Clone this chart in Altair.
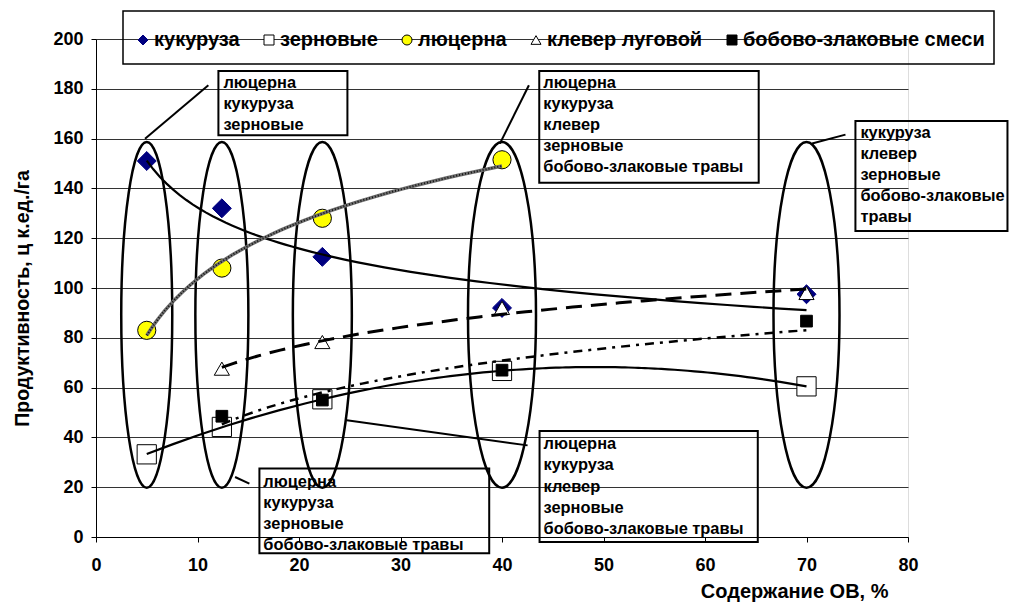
import altair as alt
import pandas as pd

# ---------------- data ----------------
series_names = ["кукуруза", "зерновые", "люцерна", "клевер луговой", "бобово-злаковые смеси"]

kukuruza_x = [5, 12.4, 22.3, 40, 70]
kukuruza_y = [151, 132, 112.5, 92, 97.5]

zernovye_x = [5, 12.4, 22.3, 40, 70]
zernovye_y = [33.2, 44.2, 55.3, 66.7, 60.5]

lucerna_x = [5, 12.4, 22.3, 40]
lucerna_y = [83, 108, 128, 151.5]

klever_x = [12.4, 22.3, 40, 70]
klever_y = [67.6, 78.3, 92, 98]

bobovo_x = [12.4, 22.3, 40, 70]
bobovo_y = [48.5, 55, 67, 86.7]

x_ticks = list(range(0, 81, 10))
y_ticks = list(range(0, 201, 20))

# callout texts
box_texts = [
    ["люцерна", "кукуруза", "зерновые"],
    ["люцерна", "кукуруза", "клевер", "зерновые", "бобово-злаковые травы"],
    ["кукуруза", "клевер", "зерновые", "бобово-злаковые", "травы"],
    ["люцерна", "кукуруза", "зерновые", "бобово-злаковые травы"],
    ["люцерна", "кукуруза", "клевер", "зерновые", "бобово-злаковые травы"],
]

# ---------------- tables ----------------
rows = []
for name, xs_, ys_ in [
    (series_names[0], kukuruza_x, kukuruza_y),
    (series_names[1], zernovye_x, zernovye_y),
    (series_names[2], lucerna_x, lucerna_y),
    (series_names[3], klever_x, klever_y),
    (series_names[4], bobovo_x, bobovo_y),
]:
    for xv, yv in zip(xs_, ys_):
        rows.append({"series": name, "x": xv, "y": yv})
df = pd.DataFrame(rows)

FONT = "Liberation Sans"

# marker styles per series (style, not data)
marker_shape = ["diamond", "square", "circle", "triangle-up", "square"]
marker_fill = ["#000080", "#ffffff", "#ffff00", "#ffffff", "#000000"]
marker_stroke = ["#000080", "#000000", "#000000", "#000000", "#000000"]
marker_size = [360, 370, 330, 230, 137]

# annotation layout (data units)
box_frames = pd.DataFrame([
    dict(x=12.06, x2=24.77, y=187.1, y2=161.3),
    dict(x=43.67, x2=65.29, y=187.1, y2=142.3),
    dict(x=74.82, x2=89.8, y=167.1, y2=122.9),
    dict(x=16.1, x2=38.74, y=27.5, y2=-6.5),
    dict(x=43.7, x2=65.2, y=42.6, y2=-2.0),
])
text_start = [(12.55, 182.5), (44.07, 182.5), (75.31, 162.4), (16.49, 22.1), (44.09, 37.2)]
line_step = 8.47
text_rows = []
for (tx, ty), lines in zip(text_start, box_texts):
    for i, t in enumerate(lines):
        text_rows.append({"x": tx, "y": ty - i * line_step, "t": t})
text_df = pd.DataFrame(text_rows)

leaders = pd.DataFrame([
    dict(x=11.07, y=181.4, x2=4.83, y2=159.9),
    dict(x=42.65, y=181.4, x2=39.79, y2=158.0),
    dict(x=73.84, y=161.6, x2=70.55, y2=158.0),
    dict(x=13.7, y=24.1, x2=15.11, y2=21.4),
    dict(x=24.71, y=46.9, x2=42.52, y2=36.8),
])

ellipse_x = [5, 12.4, 22.3, 40, 70]
ellipse_w_px = [51, 53, 59, 68, 66]
ellipse_h_px = 345.6
ellipse_cy = 89.2

# ---------------- encodings ----------------
xs = alt.Scale(domain=[0, 80], nice=False, zero=False)
ys = alt.Scale(domain=[0, 200], nice=False, zero=False)

x_axis = alt.Axis(
    values=x_ticks, grid=False, domainColor="black", domainWidth=1,
    tickColor="black", tickSize=5, labelFont=FONT, labelFontSize=18,
    labelFontWeight="bold", labelColor="black", labelPadding=14, labelFlush=False,
    title="Содержание ОВ, %", titleFont=FONT, titleFontSize=20, titleFontWeight="bold",
    titleColor="black", titleX=792, titleY=54, titleAlign="right", titleBaseline="middle",
)
y_axis = alt.Axis(
    values=y_ticks, grid=True, gridColor="#333333", gridWidth=1,
    domainColor="black", domainWidth=1, tickColor="black", tickSize=5,
    labelFont=FONT, labelFontSize=18, labelFontWeight="bold", labelColor="black",
    labelPadding=8, labelFlush=False,
    title="Продуктивность, ц к.ед./га", titleFont=FONT, titleFontSize=19.5,
    titleFontWeight="bold", titleColor="black", titleX=-74, titleY=259,
    titleAngle=270, titleAlign="center", titleBaseline="middle",
)

X = alt.X("x:Q", scale=xs, axis=x_axis)
Y = alt.Y("y:Q", scale=ys, axis=y_axis)
Xn = alt.X("x:Q", scale=xs)
Yn = alt.Y("y:Q", scale=ys)

base = alt.Chart(df)

# axes carrier
axes_layer = base.mark_point(opacity=0).encode(x=X, y=Y)

# ellipses
k = 0.5523
ell_layers = []
for ex, w in zip(ellipse_x, ellipse_w_px):
    a = w / ellipse_h_px
    path = (f"M0,-1C{k*a:.4f},-1 {a:.4f},{-k:.4f} {a:.4f},0"
            f"C{a:.4f},{k:.4f} {k*a:.4f},1 0,1"
            f"C{-k*a:.4f},1 {-a:.4f},{k:.4f} {-a:.4f},0"
            f"C{-a:.4f},{-k:.4f} {-k*a:.4f},-1 0,-1Z")
    ell_layers.append(
        alt.Chart(pd.DataFrame({"x": [ex], "y": [ellipse_cy]}))
        .mark_point(shape=path, size=ellipse_h_px ** 2, filled=False,
                    stroke="black", strokeWidth=2.5, opacity=1)
        .encode(x=Xn, y=Yn)
    )

legend = alt.Legend(
    title=None, orient="none", legendX=37, legendY=-9, direction="horizontal",
    columns=5, columnPadding=19, labelOffset=1, padding=0, symbolSize=100,
    symbolStrokeWidth=1, labelFont=FONT, labelFontSize=20, labelFontWeight="bold",
    labelColor="black", labelLimit=400,
)
dom = series_names
size_expr = " : ".join(
    f"datum.series == '{n}' ? {s}" for n, s in zip(series_names[:-1], marker_size[:-1])
) + f" : {marker_size[-1]}"

points = base.transform_calculate(sz=size_expr).mark_point(
    filled=True, strokeWidth=1, opacity=1).encode(
    x=Xn, y=Yn,
    shape=alt.Shape("series:N", scale=alt.Scale(domain=dom, range=marker_shape), legend=legend),
    fill=alt.Fill("series:N", scale=alt.Scale(domain=dom, range=marker_fill), legend=legend),
    stroke=alt.Stroke("series:N", scale=alt.Scale(domain=dom, range=marker_stroke), legend=legend),
    size=alt.Size("sz:Q", scale=None, legend=None),
)


def trend(name, method, **mk):
    t = base.transform_filter(alt.datum.series == name)
    if method == "poly":
        t = t.transform_regression("x", "y", method="poly", order=2)
    else:
        t = t.transform_regression("x", "y", method=method)
    return t.mark_line(**mk).encode(x=Xn, y=Yn)


trend_layers = [
    trend(series_names[0], "pow", color="black", strokeWidth=2.2),
    trend(series_names[1], "poly", color="black", strokeWidth=2.2),
    trend(series_names[2], "log", color="#6e6e6e", strokeWidth=3.5),
    trend(series_names[2], "log", color="#111111", strokeWidth=2, strokeDash=[1, 2]),
    trend(series_names[3], "log", color="black", strokeWidth=3, strokeDash=[16, 9]),
    trend(series_names[4], "log", color="black", strokeWidth=2.5, strokeDash=[9, 6, 3, 6]),
]

frames = alt.Chart(box_frames).mark_rect(fillOpacity=0, stroke="black", strokeWidth=2).encode(
    x=Xn, x2="x2:Q", y=Yn, y2="y2:Q")
texts = alt.Chart(text_df).mark_text(align="left", baseline="middle", font=FONT,
                                      fontSize=16.4, fontWeight="bold", color="black").encode(
    x=Xn, y=Yn, text="t:N")
rules = alt.Chart(leaders).mark_rule(color="black", strokeWidth=2).encode(
    x=Xn, y=Yn, x2="x2:Q", y2="y2:Q")

legend_frame = alt.Chart(pd.DataFrame({"a": [0]})).mark_rect(
    fillOpacity=0, stroke="black", strokeWidth=1.5).encode(
    x=alt.value(27), x2=alt.value(898), y=alt.value(-28), y2=alt.value(25))

chart = alt.layer(
    axes_layer, *ell_layers, points, *trend_layers, frames, texts, rules, legend_frame
).properties(
    width=812, height=498,
    autosize=alt.AutoSizeParams(type="none"),
    padding={"left": 88, "top": 31, "right": 101, "bottom": 68},
).configure_view(stroke=None).configure(background="white")

chart.save("out.html", embed_options={"renderer": "svg", "actions": False})
